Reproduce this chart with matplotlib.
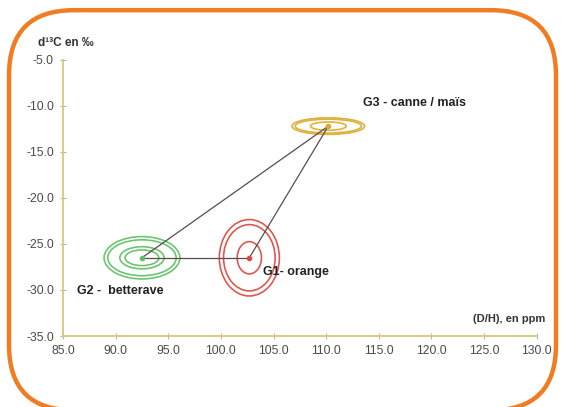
import matplotlib.pyplot as plt
from matplotlib.patches import Ellipse, FancyBboxPatch

plt.rcParams['font.family'] = ['Liberation Sans', 'DejaVu Sans']

# group centres: (D/H) in ppm and d13C in per mil
groups = ["G1- orange", "G2 -  betterave", "G3 - canne / maïs"]
dh = [102.7, 92.5, 110.2]
d13c = [-26.5, -26.5, -12.2]
colors = ["#d9473f", "#5cc060", "#dcaa2a"]

# concentric ring sizes (full width, full height) in data units
rings = [
    [(5.7, 8.3), (4.9, 7.2), (2.3, 3.5)],
    [(7.2, 4.6), (6.5, 3.9), (4.2, 2.4), (3.2, 1.7)],
    [(6.9, 1.8), (6.3, 1.5), (3.4, 0.9)],
]
label_offsets = [(10, -10), (-47, -24), (25, 17)]

xticks = [85, 90, 95, 100, 105, 110, 115, 120, 125, 130]
yticks = [-5, -10, -15, -20, -25, -30, -35]

fig = plt.figure(figsize=(5.65, 4.07), dpi=100)
ax = fig.add_axes([0.1115, 0.1744, 0.8385, 0.6786])

# rounded orange frame (bottom edge sits on the image edge)
frame = FancyBboxPatch((0.016, -0.008), 0.968, 0.983,
                       boxstyle="round,pad=0,rounding_size=0.115",
                       transform=fig.transFigure, fill=False,
                       edgecolor="#f07d22", linewidth=3.2,
                       mutation_aspect=565 / 407, zorder=0)
fig.patches.append(frame)

# connecting triangle
line_kw = dict(color="#5a4b4b", lw=0.9)
ax.plot([dh[1], dh[0]], [d13c[1], d13c[0]], **line_kw)
ax.plot([dh[0], dh[2]], [d13c[0], d13c[2]], **line_kw)
ax.plot([dh[1], dh[2]], [d13c[1], d13c[2]], **line_kw)

for i in range(3):
    for w, h in rings[i]:
        ax.add_patch(Ellipse((dh[i], d13c[i]), w, h, fill=False,
                             edgecolor=colors[i], lw=1.2, alpha=0.9))
    ax.plot(dh[i], d13c[i], "o", color=colors[i], ms=3, zorder=5)
    ax.annotate(groups[i], (dh[i], d13c[i]), xytext=label_offsets[i],
                textcoords="offset points", fontsize=9, fontweight="bold",
                color="#222222", va="center", ha="left")

ax.set_xlim(85, 130)
ax.set_ylim(-35, -5)
ax.set_xticks(xticks)
ax.set_yticks(yticks)
ax.set_xticklabels([f"{v:.1f}" for v in xticks])
ax.set_yticklabels([f"{v:.1f}" for v in yticks])
for s in ["top", "right"]:
    ax.spines[s].set_visible(False)
for s in ["left", "bottom"]:
    ax.spines[s].set_color("#d8c878")
    ax.spines[s].set_linewidth(1.3)
ax.tick_params(direction="inout", length=5, width=0.8, color="#b8b8a0",
               labelsize=8.7, labelcolor="#4a4a4a", pad=4)

fig.text(0.067, 0.888, "d¹³C en ‰", fontsize=8.5, fontweight="bold", color="#333333")
fig.text(0.965, 0.21, "(D/H), en ppm", fontsize=8, fontweight="bold",
         color="#333333", ha="right")

fig.savefig("out.png", dpi=100)
